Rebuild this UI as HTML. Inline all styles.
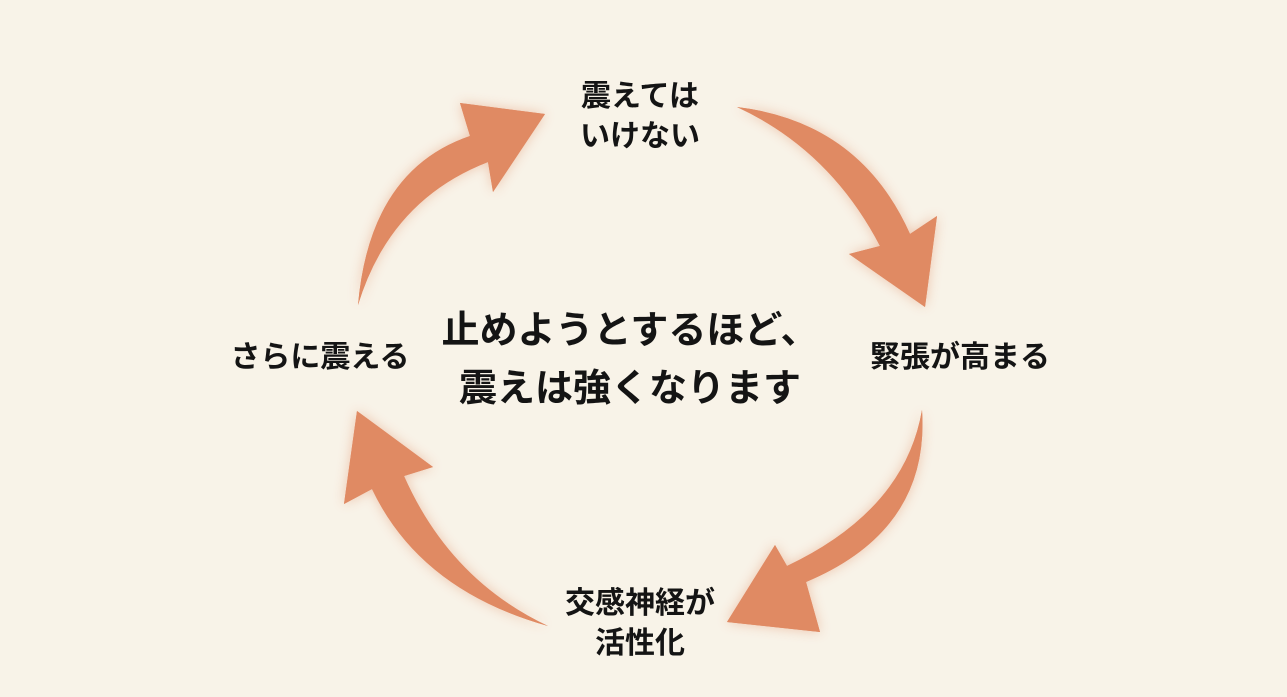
<!DOCTYPE html>
<html><head><meta charset="utf-8"><style>
html,body{margin:0;padding:0}
body{width:1287px;height:697px;background:#f8f3e8;position:relative;overflow:hidden;font-family:"Liberation Sans","Noto Sans CJK JP",sans-serif;font-weight:bold;color:#141414}
.t{position:absolute;text-align:center;white-space:nowrap}
svg{position:absolute;left:0;top:0}
</style></head><body>
<svg width="1287" height="697" viewBox="0 0 1287 697">
<defs><filter id="g" x="-30%" y="-30%" width="160%" height="160%"><feGaussianBlur stdDeviation="6"/></filter></defs>
<g id="arrows" fill="#e08a63">
<path d="M737,107 Q860,122 910,234 L937,216 L925,307 L849,254 L880,246 Q830,150 737,107 Z"/>
<path d="M922,410 Q930,530 806,582 L820,632 L727,622 L775,545 L787,566 Q905,510 922,410 Z"/>
<path d="M548,626 Q420,590 372,489 L344,504 L357,411 L433,467 L404,476 Q450,580 548,626 Z"/>
<path d="M358,305 Q370,170 470,136 L460,103 L545,114 L493,192 L488,162 Q390,200 358,305 Z"/>
</g>
<use href="#arrows" filter="url(#g)" opacity="0.45"/>
<use href="#arrows"/>
</svg>
<div class="t" style="left:540px;top:77px;width:200px;font-size:30px;line-height:40px">震えては<br>いけない</div>
<div class="t" style="left:210px;top:338px;width:220px;font-size:30px;line-height:40px">さらに震える</div>
<div class="t" style="left:850px;top:338px;width:220px;font-size:30px;line-height:40px">緊張が高まる</div>
<div class="t" style="left:530px;top:584px;width:220px;font-size:30px;line-height:40px">交感神経が<br>活性化</div>
<div class="t" style="left:410px;top:302px;width:440px;font-size:38px;line-height:58px">止めようとするほど、<br>震えは強くなります</div>
</body></html>
